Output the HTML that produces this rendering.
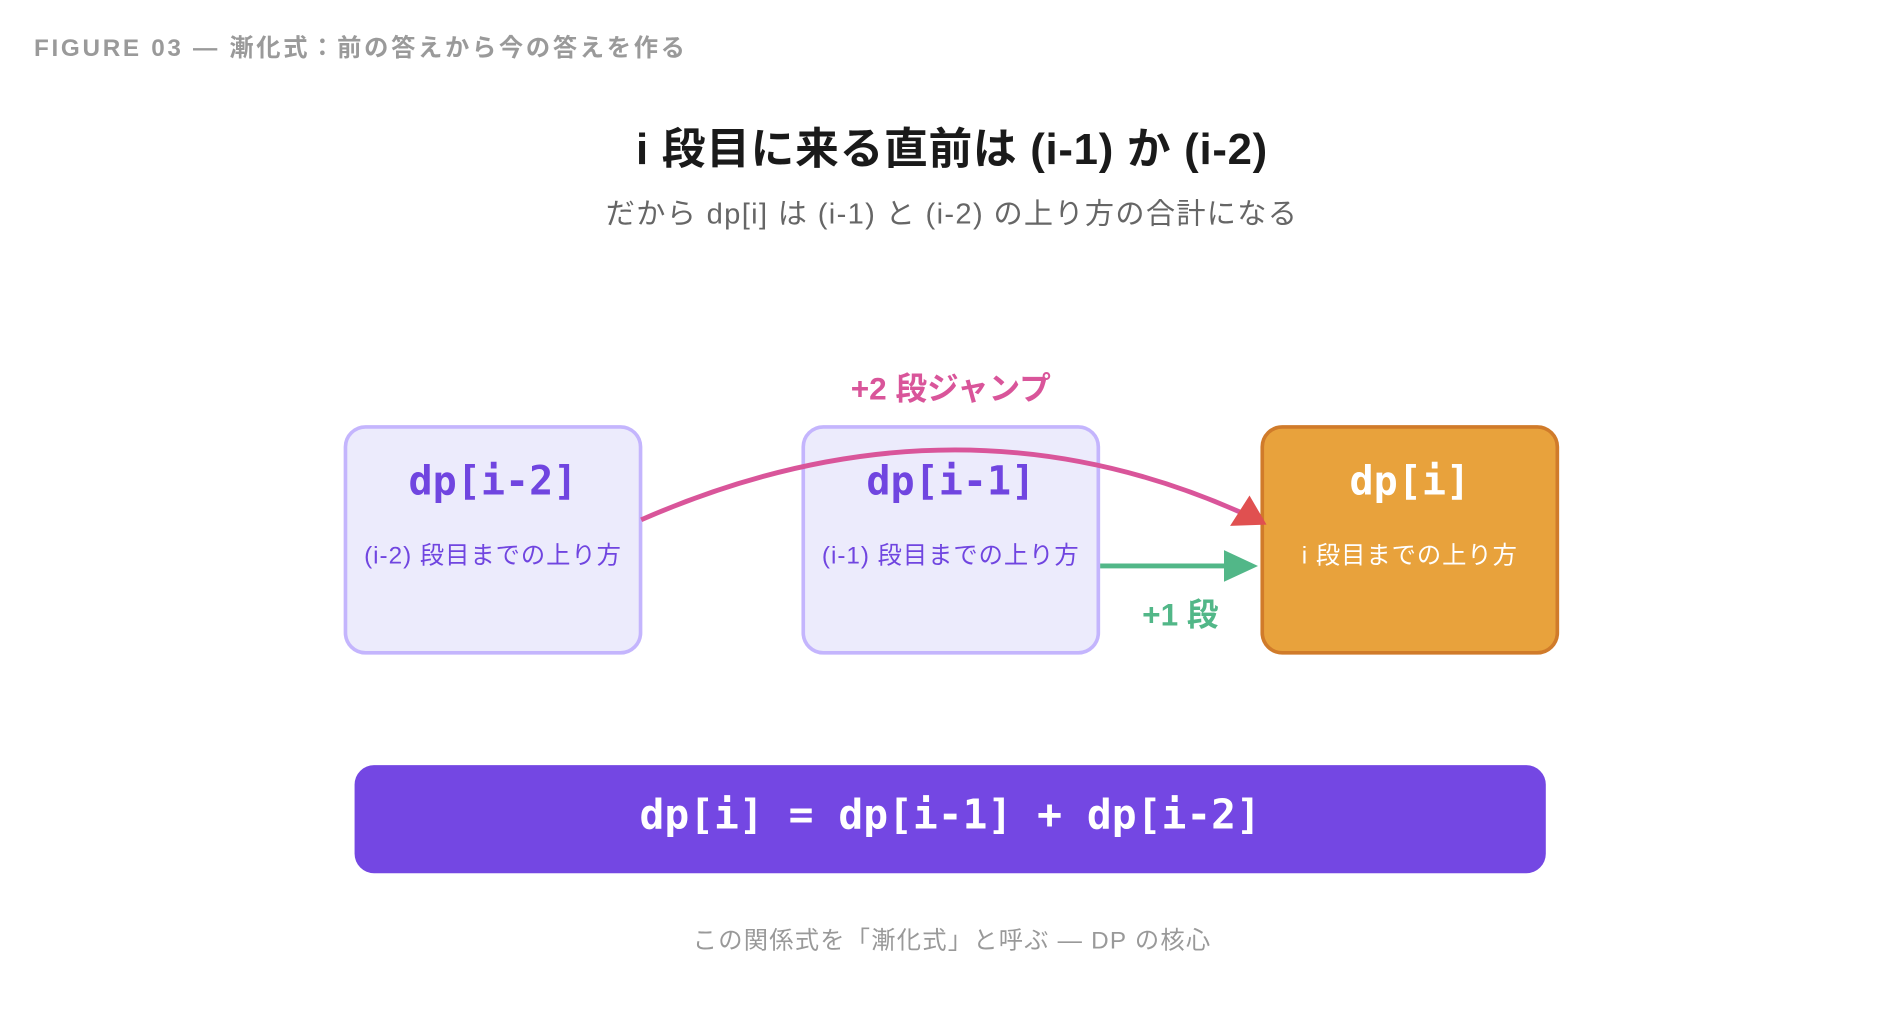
<!DOCTYPE html>
<html><head><meta charset="utf-8"><style>
html,body{margin:0;padding:0;background:#fff;}
body{width:1904px;height:1036px;overflow:hidden;}
#w{width:1568px;height:853px;transform:scale(1.2143,1.2145);transform-origin:0 0;position:relative;font-family:"Liberation Sans","Noto Sans CJK JP",sans-serif;}
.t{position:absolute;white-space:nowrap;}
.box{position:absolute;box-sizing:border-box;border-radius:18px;border:3px solid #c4b5fd;background:#ecebfc;width:246px;height:189px;top:350px;}
.mono{font-family:"DejaVu Sans Mono","Liberation Mono",monospace;font-weight:bold;}
</style></head><body><div id="w">
<div class="t" style="left:28px;top:23px;font-size:20px;color:#9a9a9a;font-weight:bold;letter-spacing:2.2px;">FIGURE 03 — 漸化式：前の答えから今の答えを作る</div>
<div class="t" style="left:0;width:1568px;text-align:center;top:94px;font-size:36px;font-weight:bold;color:#1a1a1a;letter-spacing:0.6px;">i 段目に来る直前は (i-1) か (i-2)</div>
<div class="t" style="left:0;width:1568px;text-align:center;top:156px;font-size:24px;color:#666;letter-spacing:1.1px;">だから dp[i] は (i-1) と (i-2) の上り方の合計になる</div>

<div class="box" style="left:283px;"></div>
<div class="box" style="left:660px;"></div>
<div class="box" style="left:1038px;background:#e8a23c;border-color:#d07b2a;"></div>

<div class="t mono" style="left:283px;width:246px;text-align:center;top:376px;font-size:33px;color:#7045e0;">dp[i-2]</div>
<div class="t mono" style="left:660px;width:246px;text-align:center;top:376px;font-size:33px;color:#7045e0;">dp[i-1]</div>
<div class="t mono" style="left:1038px;width:246px;text-align:center;top:376px;font-size:33px;color:#fff;">dp[i]</div>
<div class="t" style="left:283px;width:246px;text-align:center;top:441px;font-size:20px;color:#7045e0;letter-spacing:0.8px;">(i-2) 段目までの上り方</div>
<div class="t" style="left:660px;width:246px;text-align:center;top:441px;font-size:20px;color:#7045e0;letter-spacing:0.8px;">(i-1) 段目までの上り方</div>
<div class="t" style="left:1038px;width:246px;text-align:center;top:441px;font-size:20px;color:#fff;letter-spacing:0.8px;">i 段目までの上り方</div>

<svg class="t" style="left:0;top:0" width="1568" height="853">
<path d="M528 428 Q784 316 1022 422" fill="none" stroke="#d9559a" stroke-width="4"/>
<polygon points="1043,432 1013,433 1029,408" fill="#e05050"/>
<line x1="906" y1="466" x2="1010" y2="466" stroke="#52b788" stroke-width="4"/>
<polygon points="1036,466 1008,453 1008,479" fill="#52b788"/>
</svg>
<div class="t" style="left:673px;width:220px;text-align:center;top:300px;font-size:26px;font-weight:bold;color:#d9559a;">+2 段ジャンプ</div>
<div class="t" style="left:902px;width:140px;text-align:center;top:486px;font-size:26px;font-weight:bold;color:#52b788;">+1 段</div>

<div style="position:absolute;left:292px;top:630px;width:981px;height:89px;border-radius:16px;background:#7447e3;"></div>
<div class="t mono" style="left:292px;width:981px;text-align:center;top:651px;font-size:34px;color:#fff;">dp[i] = dp[i-1] + dp[i-2]</div>
<div class="t" style="left:0;width:1568px;text-align:center;top:758px;font-size:20px;color:#999;letter-spacing:1px;">この関係式を「漸化式」と呼ぶ — DP の核心</div>
</div></body></html>
